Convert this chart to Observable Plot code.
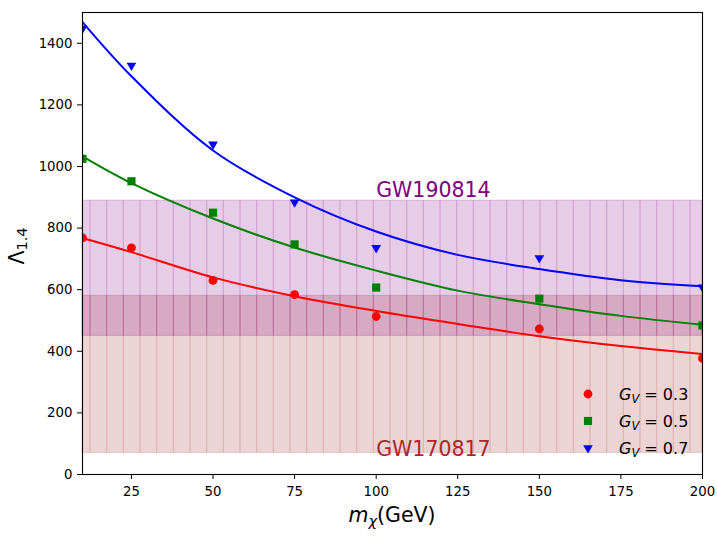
<!DOCTYPE html>
<html><head><meta charset="utf-8">
<script src="https://cdn.jsdelivr.net/npm/d3@7"></script>
<script src="https://cdn.jsdelivr.net/npm/@observablehq/plot@0.6"></script>
<style>body{margin:0;background:#fff} svg{display:block}</style>
</head><body><div id="chart"></div>
<script>
// ---- data ----
const masses = [10, 25, 50, 75, 100, 150, 200];
const lambda03 = [768, 736, 630, 584, 513, 473, 377];
const lambda05 = [1025, 952, 850, 747, 607, 571, 484];
const lambda07 = [1448, 1328, 1072, 884, 736, 703, 608];

const fitMasses = [10, 25, 50, 75, 100, 125, 150, 175, 200];
const fit03 = [768, 722, 640, 579, 531, 489, 449, 417, 391];
const fit05 = [1033, 946, 831, 737, 662, 597, 553, 515, 486];
const fit07 = [1469, 1293, 1052, 900, 789, 713, 667, 631, 611];

const gvLabels = ["0.3", "0.5", "0.7"];
const bandNames = ["GW170817", "GW190814"];
const bandLow = [70, 450];
const bandHigh = [580, 889];
const massRange = [10, 200];
const lambdaRange = [0, 1500];
const xTicks = [25, 50, 75, 100, 125, 150, 175, 200];
const yTicks = [0, 200, 400, 600, 800, 1000, 1200, 1400];

// ---- styles ----
const seriesColor = {"0.3": "red", "0.5": "green", "0.7": "blue"};
const seriesSymbol = {"0.3": "circle", "0.5": "square", "0.7": "triangle"};
const seriesR = {"0.3": 4.4, "0.5": 4.6, "0.7": 3.6};
const bandColor = {"GW170817": "brown", "GW190814": "purple"};
const hatchStep = 16.667, hatchPhase = 6.67;

// ---- tables ----
const pointSets = [lambda03, lambda05, lambda07];
const fitSets = [fit03, fit05, fit07];
const points = gvLabels.flatMap((g, k) => masses.map((m, i) => ({m, L: pointSets[k][i], g})));
const fits = gvLabels.flatMap((g, k) => fitMasses.map((m, i) => ({m, L: fitSets[k][i], g})));
const bands = bandNames.map((name, i) => ({name, lo: bandLow[i], hi: bandHigh[i], x1: massRange[0], x2: massRange[1]}));

const marks = [
  Plot.rect(bands, {x1: "x1", x2: "x2", y1: "lo", y2: "hi", fill: d => bandColor[d.name], fillOpacity: 0.2,
    stroke: d => bandColor[d.name], strokeOpacity: 0.2, strokeWidth: 1}),
  Plot.text(bands.filter(d => d.name === "GW190814"), {x: 100, y: "hi", text: "name", textAnchor: "start", lineAnchor: "bottom", dy: -3.5, fill: "purple", fontSize: 20.5}),
  Plot.text(bands.filter(d => d.name === "GW170817"), {x: 100, y: "lo", text: "name", textAnchor: "start", lineAnchor: "bottom", dy: 3.5, fill: "brown", fontSize: 20.5}),
];
for (const g of gvLabels) {
  marks.push(Plot.line(fits.filter(d => d.g === g), {x: "m", y: "L", stroke: seriesColor[g], strokeWidth: 2, curve: "catmull-rom", clip: true}));
}
for (const g of gvLabels) {
  marks.push(Plot.dot(points.filter(d => d.g === g), {x: "m", y: "L", fill: seriesColor[g], stroke: "none",
    symbol: seriesSymbol[g], r: seriesR[g], rotate: g === "0.7" ? 180 : 0, clip: true}));
}
marks.push(Plot.frame({stroke: "black", strokeWidth: 1.1}));

const plot = Plot.plot({
  width: 717, height: 540,
  marginLeft: 82, marginRight: 15, marginTop: 12, marginBottom: 66,
  style: {fontFamily: "DejaVu Sans", fontSize: "13.3px", color: "black", background: "white", overflow: "visible"},
  x: {domain: massRange, ticks: xTicks, tickSize: 5, tickPadding: 7, label: null, tickFormat: d => String(d)},
  y: {domain: lambdaRange, ticks: yTicks, tickSize: 5, tickPadding: 5, label: null, tickFormat: d => String(d)},
  marks
});

document.getElementById("chart").appendChild(plot);
const svg = d3.select(plot);
const xs = plot.scale("x"), ys = plot.scale("y");

// hatch lines (decoration, drawn under the curves), one vertical path per band
const hatch = svg.insert("g", "g[aria-label=line]");
const xLeft = xs.apply(massRange[0]), xRight = xs.apply(massRange[1]);
for (const b of bands) {
  const yTop = ys.apply(b.hi), yBot = ys.apply(b.lo);
  const path = d3.path();
  let n = 0;
  for (let x = hatchPhase + Math.ceil((xLeft - hatchPhase) / hatchStep) * hatchStep; x < xRight; x += hatchStep) {
    path.moveTo(x, yTop); path.lineTo(x, yBot); n++;
  }
  hatch.append("path").attr("d", path.toString()).attr("data-count", n)
    .attr("stroke", bandColor[b.name]).attr("stroke-opacity", 0.2).attr("stroke-width", 1.2).attr("fill", "none");
}

// y label
const yl = svg.append("text").attr("transform", "translate(24,246) rotate(-90)")
  .attr("text-anchor", "middle").attr("font-family", "DejaVu Sans").attr("font-size", 20.5).attr("fill", "black");
yl.append("tspan").text("Λ");
yl.append("tspan").attr("font-size", 14.5).attr("dy", 3).text("1.4");

// x label
const xl = svg.append("text").attr("x", 392).attr("y", 522)
  .attr("text-anchor", "middle").attr("font-family", "DejaVu Sans").attr("font-size", 20.5).attr("fill", "black");
xl.append("tspan").attr("font-style", "italic").text("m");
xl.append("tspan").attr("font-style", "italic").attr("font-size", 14.5).attr("dy", 4).text("χ");
xl.append("tspan").attr("dy", -4).text("(GeV)");

// legend
const legend = svg.append("g");
gvLabels.forEach((g, i) => {
  const cy = 394 + i * 27;
  const r = seriesR[g];
  const sym = g === "0.3" ? d3.symbolCircle : g === "0.5" ? d3.symbolSquare : d3.symbolTriangle;
  legend.append("path").attr("d", d3.symbol(sym, r * r * Math.PI)())
    .attr("transform", `translate(588,${cy}) rotate(${g === "0.7" ? 180 : 0})`)
    .attr("fill", seriesColor[g]);
  const t = legend.append("text").attr("x", 619).attr("y", cy + 6).attr("text-anchor", "start")
    .attr("font-family", "DejaVu Sans").attr("font-size", 16).attr("fill", "black");
  t.append("tspan").attr("font-style", "italic").text("G");
  t.append("tspan").attr("font-style", "italic").attr("font-size", 11.5).attr("dy", 3).text("V");
  t.append("tspan").attr("dy", -3).text(" = " + g);
});
</script>
</body></html>
